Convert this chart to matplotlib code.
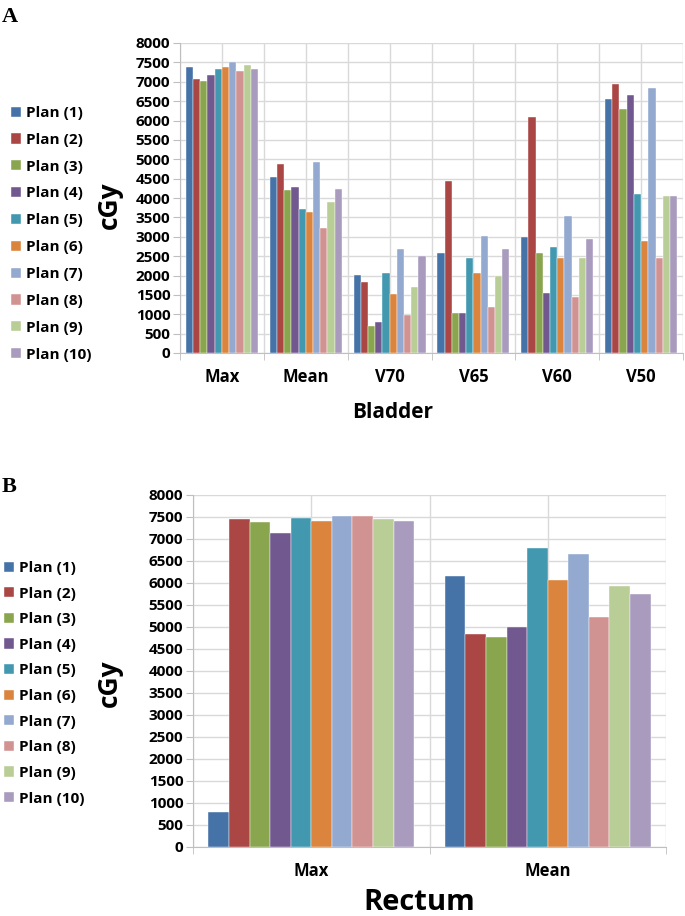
import matplotlib.pyplot as plt
import numpy as np
from matplotlib.ticker import MultipleLocator

# data
plans = ['Plan (1)', 'Plan (2)', 'Plan (3)', 'Plan (4)', 'Plan (5)',
         'Plan (6)', 'Plan (7)', 'Plan (8)', 'Plan (9)', 'Plan (10)']
colors = ['#4572A7', '#AA4643', '#89A54E', '#71588F', '#4198AF',
          '#DB843D', '#93A9CF', '#D19392', '#B9CD96', '#A99BBD']

bladder_cats = ['Max', 'Mean', 'V70', 'V65', 'V60', 'V50']
bladder = [
    [7370, 4530, 2020, 2580, 2990, 6550],   # plan 1
    [7070, 4880, 1830, 4450, 6080, 6940],   # plan 2
    [7030, 4210, 700, 1020, 2580, 6300],    # plan 3
    [7180, 4280, 800, 1020, 1540, 6670],    # plan 4
    [7330, 3720, 2060, 2440, 2740, 4110],   # plan 5
    [7390, 3630, 1530, 2060, 2440, 2880],   # plan 6
    [7520, 4920, 2690, 3020, 3540, 6850],   # plan 7
    [7290, 3220, 990, 1180, 1440, 2440],    # plan 8
    [7440, 3900, 1700, 1980, 2440, 4060],   # plan 9
    [7330, 4240, 2510, 2690, 2950, 4060],   # plan 10
]

rectum_cats = ['Max', 'Mean']
rectum = [
    [800, 6160],
    [7450, 4830],
    [7380, 4780],
    [7140, 5010],
    [7480, 6790],
    [7420, 6070],
    [7515, 6660],
    [7530, 5230],
    [7460, 5930],
    [7400, 5760],
]

plt.rcParams['font.family'] = ['Open Sans', 'DejaVu Sans']

W, H = 685, 916
fig = plt.figure(figsize=(W / 100, H / 100), dpi=100)


def panel(ax, cats, data, group=0.86):
    n = len(data)
    x = np.arange(len(cats))
    w = group / n
    bars = []
    for i, vals in enumerate(data):
        b = ax.bar(x - group / 2 + w * (i + 0.5), vals, width=w,
                   color=colors[i], edgecolor='white', linewidth=0.3,
                   label=plans[i], zorder=3)
        bars.append(b)
    ax.set_xlim(-0.5, len(cats) - 0.5)
    ax.set_ylim(0, 8000)
    ax.yaxis.set_major_locator(MultipleLocator(500))
    ax.set_xticks(x)
    ax.set_xticklabels(cats, fontweight='bold', fontsize=12)
    ax.set_xticks(np.arange(len(cats) + 1) - 0.5, minor=True)
    for lab in ax.get_yticklabels():
        lab.set_fontweight('bold')
        lab.set_fontsize(11)
    ax.tick_params(axis='x', which='major', length=0, pad=11)
    ax.tick_params(axis='x', which='minor', length=5, color='#bfbfbf')
    ax.tick_params(axis='y', length=5, color='#bfbfbf', pad=2)
    ax.grid(axis='y', color='#d9d9d9', linewidth=1, zorder=0)
    # vertical lines at category centers and boundaries
    for xv in np.arange(-0.5, len(cats), 0.5):
        ax.axvline(xv, color='#d9d9d9', linewidth=1, zorder=0)
    for s in ['top', 'right']:
        ax.spines[s].set_visible(False)
    ax.spines['left'].set_color('#bfbfbf')
    ax.spines['bottom'].set_color('#bfbfbf')
    ax.set_ylabel('cGy', fontweight='bold', fontsize=19, va='center', ha='center')
    return bars


def legend(handles, x, y, spacing):
    fig.legend(handles, plans, loc='upper left',
               bbox_to_anchor=(x / W, 1 - y / H), frameon=False,
               prop={'weight': 'bold', 'size': 11},
               borderaxespad=0, borderpad=0,
               handlelength=0.65, handleheight=0.65, handletextpad=0.3,
               labelspacing=spacing)


# panel A
axA = fig.add_axes([180 / W, 1 - 353 / H, 503 / W, 310 / H])
barsA = panel(axA, bladder_cats, bladder)
axA.set_xlabel('Bladder', fontweight='bold', fontsize=15, va='center')
axA.xaxis.set_label_coords((393 - 180) / 503, (353 - 412) / 310)
axA.yaxis.set_label_coords((109 - 180) / 503, (353 - 205) / 310)
legend(barsA, 11, 106, 0.84)

# panel B
axB = fig.add_axes([193 / W, 1 - 847 / H, 473 / W, 352 / H])
barsB = panel(axB, rectum_cats, rectum, group=0.87)
axB.set_xlabel('Rectum', fontweight='bold', fontsize=21, va='center')
axB.xaxis.set_label_coords((419 - 193) / 473, (847 - 902) / 352)
axB.yaxis.set_label_coords((109 - 193) / 473, (847 - 683) / 352)
legend(barsB, 4, 561, 0.76)

fig.text(2 / W, 1 - 22 / H, 'A', family='Liberation Serif', fontweight='bold', fontsize=16)
fig.text(2 / W, 1 - 492 / H, 'B', family='Liberation Serif', fontweight='bold', fontsize=16)

fig.savefig('out.png', dpi=100)
